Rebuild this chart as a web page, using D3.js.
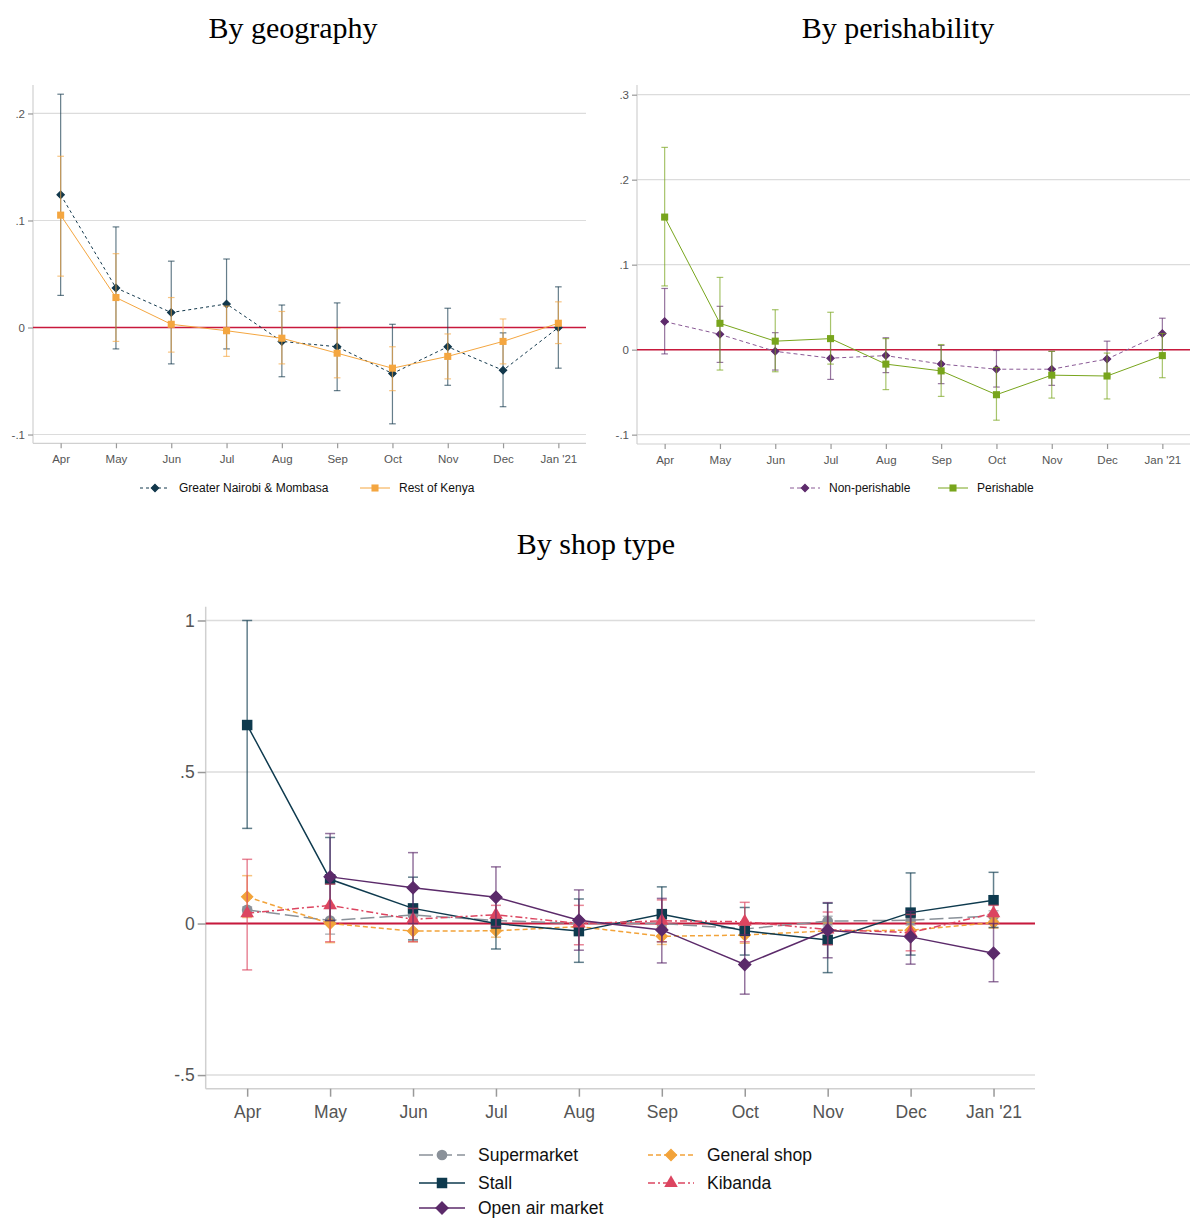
<!DOCTYPE html>
<html><head><meta charset="utf-8">
<script src="https://cdn.jsdelivr.net/npm/d3@7"></script>
<style>body{margin:0;background:#fff}svg{display:block}</style>
</head><body>
<svg id="c" width="1190" height="1218"></svg>
<script>
const months = ["Apr","May","Jun","Jul","Aug","Sep","Oct","Nov","Dec","Jan '21"];

// Panel 1: By geography
const geoNames = ["Greater Nairobi & Mombasa","Rest of Kenya"];
const nairobiVal = [0.124,0.037,0.014,0.022,-0.013,-0.018,-0.043,-0.018,-0.040,0.000];
const nairobiLo  = [0.030,-0.020,-0.034,-0.020,-0.046,-0.059,-0.090,-0.054,-0.074,-0.038];
const nairobiHi  = [0.218,0.094,0.062,0.064,0.021,0.023,0.003,0.018,-0.005,0.038];
const restVal = [0.105,0.028,0.003,-0.003,-0.010,-0.024,-0.038,-0.027,-0.013,0.004];
const restLo  = [0.048,-0.013,-0.023,-0.027,-0.034,-0.047,-0.059,-0.048,-0.034,-0.015];
const restHi  = [0.160,0.069,0.028,0.020,0.015,-0.001,-0.018,-0.006,0.008,0.024];
const geoTicks = [-0.1,0,0.1,0.2];

// Panel 2: By perishability
const perNames = ["Non-perishable","Perishable"];
const nonPerVal = [0.033,0.018,-0.002,-0.010,-0.007,-0.017,-0.023,-0.023,-0.011,0.019];
const nonPerLo  = [-0.005,-0.015,-0.024,-0.035,-0.027,-0.040,-0.044,-0.042,-0.032,0.000];
const nonPerHi  = [0.072,0.051,0.020,0.015,0.014,0.005,-0.001,-0.002,0.010,0.037];
const perVal = [0.156,0.031,0.010,0.013,-0.017,-0.025,-0.053,-0.030,-0.031,-0.007];
const perLo  = [0.075,-0.024,-0.026,-0.017,-0.047,-0.055,-0.083,-0.057,-0.058,-0.033];
const perHi  = [0.238,0.085,0.047,0.044,0.013,0.006,-0.021,-0.002,-0.004,0.019];
const perTicks = [-0.1,0,0.1,0.2,0.3];

// Panel 3: By shop type
const shopNames = ["Supermarket","General shop","Stall","Kibanda","Open air market"];
const superVal = [0.045,0.010,0.028,0.010,0.000,0.000,-0.018,0.008,0.011,0.025];
const superLo  = [0.035,-0.035,0.010,-0.005,-0.012,-0.012,-0.035,-0.008,-0.005,0.008];
const superHi  = [0.055,0.050,0.045,0.025,0.012,0.012,0.000,0.024,0.027,0.042];
const genVal = [0.088,0.000,-0.025,-0.024,-0.010,-0.042,-0.038,-0.024,-0.022,0.003];
const genLo  = [0.020,-0.063,-0.060,-0.045,-0.035,-0.069,-0.065,-0.050,-0.048,-0.015];
const genHi  = [0.158,0.060,0.010,0.000,0.015,-0.012,-0.010,0.002,0.004,0.020];
const stallVal = [0.655,0.146,0.050,0.000,-0.025,0.031,-0.024,-0.054,0.036,0.077];
const stallLo  = [0.314,0.010,-0.054,-0.084,-0.128,-0.060,-0.104,-0.162,-0.104,-0.013];
const stallHi  = [1.000,0.284,0.153,0.084,0.081,0.121,0.053,0.067,0.167,0.169];
const kibVal = [0.034,0.060,0.014,0.029,0.000,0.009,0.006,-0.020,-0.030,0.034];
const kibLo  = [-0.153,-0.060,-0.060,-0.010,-0.070,-0.060,-0.060,-0.070,-0.090,0.000];
const kibHi  = [0.212,0.130,0.050,0.060,0.060,0.078,0.070,0.038,0.030,0.060];
const openVal = [null,0.154,0.118,0.087,0.011,-0.021,-0.135,-0.022,-0.044,-0.098];
const openLo  = [null,0.010,0.000,-0.010,-0.088,-0.130,-0.233,-0.113,-0.134,-0.192];
const openHi  = [null,0.297,0.234,0.187,0.111,0.083,-0.037,0.069,0.040,0.000];
const shopTicks = [-0.5,0,0.5,1];

const svg = d3.select("#c");
const fmt = d => d === 0 ? "0" : String(d).replace("0.", ".");
const diamond = d3.symbolDiamond2 || d3.symbolDiamond;

function panel(cfg){
  const g = svg.append("g");
  const x = d3.scalePoint().domain(months).range([cfg.left, cfg.right]).padding(0.5);
  const y = d3.scaleLinear().domain(cfg.ydom).range([cfg.bottom, cfg.top]);
  g.append("g").selectAll("line").data(cfg.ticks).join("line")
    .attr("x1", cfg.left).attr("x2", cfg.right)
    .attr("y1", d => y(d)).attr("y2", d => y(d))
    .attr("stroke", "#dcdcdc").attr("stroke-width", cfg.gw);
  const ya = g.append("g").attr("transform", `translate(${cfg.left},0)`)
    .call(d3.axisLeft(y).tickValues(cfg.ticks).tickFormat(fmt).tickSize(cfg.tick).tickPadding(3));
  ya.select(".domain").attr("stroke", "#d0d0d0").attr("stroke-width", cfg.gw)
    .attr("d", `M0,${cfg.top}V${cfg.bottom}`);
  ya.selectAll(".tick line").attr("stroke", "#999").attr("stroke-width", cfg.gw);
  ya.selectAll(".tick text").attr("fill", "#555").style("font-family","Liberation Sans, Arial, sans-serif").style("font-size", cfg.fs + "px");
  const xa = g.append("g").attr("transform", `translate(0,${cfg.bottom})`)
    .call(d3.axisBottom(x).tickSize(cfg.tick).tickPadding(cfg.xpad));
  xa.select(".domain").attr("stroke", "#d0d0d0").attr("stroke-width", cfg.gw)
    .attr("d", `M${cfg.left},0H${cfg.right}`);
  xa.selectAll(".tick line").attr("stroke", "#999").attr("stroke-width", cfg.gw);
  xa.selectAll(".tick text").attr("fill", "#555").style("font-family","Liberation Sans, Arial, sans-serif").style("font-size", cfg.fs + "px");
  g.append("line").attr("x1", cfg.left).attr("x2", cfg.right)
    .attr("y1", y(0)).attr("y2", y(0)).attr("stroke", "#c8193c").attr("stroke-width", cfg.zw);
  g.append("text").attr("x", cfg.tx).attr("y", cfg.ty).attr("text-anchor","middle")
    .style("font-family","Liberation Serif, Times New Roman, serif").style("font-size", cfg.tfs + "px")
    .attr("fill","#000").text(cfg.title);

  cfg.series.forEach(s => {
    const pts = months.map((m,i) => ({m, v:s.val[i], lo:s.lo[i], hi:s.hi[i]})).filter(p => p.v !== null);
    const sg = g.append("g");
    const eb = sg.append("g").attr("stroke", s.color).attr("stroke-opacity", 0.65).attr("stroke-width", cfg.ew);
    pts.forEach(p => {
      eb.append("line").attr("x1", x(p.m)).attr("x2", x(p.m)).attr("y1", y(p.lo)).attr("y2", y(p.hi));
      eb.append("line").attr("x1", x(p.m)-cfg.cap).attr("x2", x(p.m)+cfg.cap).attr("y1", y(p.lo)).attr("y2", y(p.lo));
      eb.append("line").attr("x1", x(p.m)-cfg.cap).attr("x2", x(p.m)+cfg.cap).attr("y1", y(p.hi)).attr("y2", y(p.hi));
    });
    sg.append("path").datum(pts)
      .attr("d", d3.line().x(p => x(p.m)).y(p => y(p.v)))
      .attr("fill","none").attr("stroke", s.lcolor || s.color).attr("stroke-width", cfg.lw)
      .attr("stroke-dasharray", s.dash || null);
    sg.selectAll("path.mk").data(pts).join("path").attr("class","mk")
      .attr("transform", p => `translate(${x(p.m)},${y(p.v)})`)
      .attr("d", d3.symbol().type(s.sym).size(s.size))
      .attr("fill", s.mcolor || s.color).attr("stroke", s.mcolor || s.color).attr("stroke-width", s.sym === diamond ? 1.2 : 0);
  });

  cfg.legend.forEach(L => {
    const s = cfg.series[L.idx];
    const lg = g.append("g");
    lg.append("line").attr("x1", L.x).attr("x2", L.x + cfg.lLen).attr("y1", L.y).attr("y2", L.y)
      .attr("stroke", s.lcolor || s.color).attr("stroke-width", cfg.lw).attr("stroke-dasharray", s.dash || null);
    lg.append("path").attr("transform", `translate(${L.x + cfg.lLen/2},${L.y})`)
      .attr("d", d3.symbol().type(s.sym).size(s.size)).attr("fill", s.mcolor || s.color)
      .attr("stroke", s.mcolor || s.color).attr("stroke-width", s.sym === diamond ? 1.2 : 0);
    lg.append("text").attr("x", L.x + cfg.lLen + cfg.lGap).attr("y", L.y).attr("dy","0.35em")
      .style("font-family","Liberation Sans, Arial, sans-serif").style("font-size", cfg.lfs + "px")
      .attr("fill","#111").text(cfg.names[L.idx]);
  });
}

panel({
  title:"By geography", tx:293, ty:38, tfs:30,
  left:33, right:586, top:85, bottom:443.3, ydom:[-0.1082,0.2266], ticks:geoTicks,
  gw:1.2, tick:5, fs:11.5, xpad:7, zw:1.5, ew:1.2, cap:3.3, lw:1,
  names:geoNames, lLen:30, lGap:9, lfs:12,
  series:[
    {val:nairobiVal, lo:nairobiLo, hi:nairobiHi, color:"#12384c", dash:"3,3", sym:diamond, size:34},
    {val:restVal, lo:restLo, hi:restHi, color:"#f4a640", sym:d3.symbolSquare, size:50}
  ],
  legend:[{idx:0, x:140, y:488},{idx:1, x:360, y:488}]
});

panel({
  title:"By perishability", tx:898, ty:38, tfs:30,
  left:637, right:1190, top:85, bottom:444, ydom:[-0.111,0.3114], ticks:perTicks,
  gw:1.2, tick:5, fs:11.5, xpad:7, zw:1.5, ew:1.2, cap:3.3, lw:1,
  names:perNames, lLen:30, lGap:9, lfs:12,
  series:[
    {val:nonPerVal, lo:nonPerLo, hi:nonPerHi, color:"#5e2b6c", lcolor:"#8a5a96", dash:"4,3", sym:diamond, size:34},
    {val:perVal, lo:perLo, hi:perHi, color:"#78a51c", sym:d3.symbolSquare, size:50}
  ],
  legend:[{idx:0, x:790, y:488},{idx:1, x:938, y:488}]
});

panel({
  title:"By shop type", tx:596, ty:554, tfs:30,
  left:205.7, right:1035, top:606.7, bottom:1088.7, ydom:[-0.545,1.0455], ticks:shopTicks,
  gw:1.5, tick:8, fs:17.5, xpad:9, zw:2, ew:1.5, cap:5, lw:1.5,
  names:shopNames, lLen:46, lGap:13, lfs:17.5,
  series:[
    {val:superVal, lo:superLo, hi:superHi, color:"#8a9199", dash:"14,5", sym:d3.symbolCircle, size:90},
    {val:genVal, lo:genLo, hi:genHi, color:"#f2a33a", dash:"5,3", sym:diamond, size:80},
    {val:stallVal, lo:stallLo, hi:stallHi, color:"#0e3a4e", sym:d3.symbolSquare, size:110},
    {val:kibVal, lo:kibLo, hi:kibHi, color:"#dc4560", dash:"7,3,2,3", sym:d3.symbolTriangle, size:80},
    {val:openVal, lo:openLo, hi:openHi, color:"#5b2a6a", sym:diamond, size:95}
  ],
  legend:[{idx:0, x:419, y:1155},{idx:2, x:419, y:1183},{idx:4, x:419, y:1208},
          {idx:1, x:648, y:1155},{idx:3, x:648, y:1183}]
});
</script>
</body></html>
